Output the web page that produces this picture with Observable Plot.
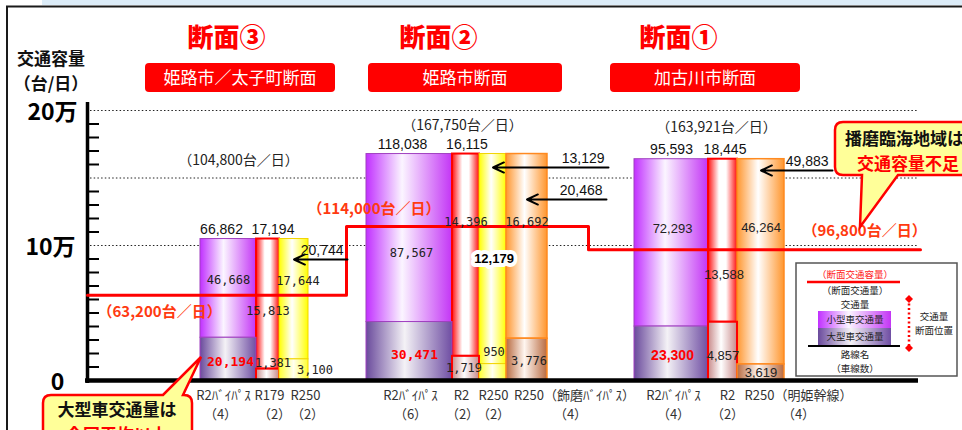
<!DOCTYPE html>
<html><head><meta charset="utf-8">
<script src="https://cdn.jsdelivr.net/npm/d3@7"></script>
<script src="https://cdn.jsdelivr.net/npm/@observablehq/plot@0.6"></script>
<style>
html,body{margin:0;padding:0;background:#fff;overflow:hidden}
#chart{position:relative;width:962px;height:430px;overflow:hidden}
#chart svg{display:block}
</style></head><body><div id="chart"></div>
<script>
// ---------------- DATA ----------------
const groups = ["断面③", "断面②", "断面①"];
const groupNames = ["姫路市／太子町断面", "姫路市断面", "加古川市断面"];
const groupTotals = [104800, 167750, 163921];
const capacity = [63200, 114000, 96800];
const routes = [["R2ﾊﾞｲﾊﾟｽ", "R179", "R250"], ["R2ﾊﾞｲﾊﾟｽ", "R2", "R250", "R250（飾磨ﾊﾞｲﾊﾟｽ）"], ["R2ﾊﾞｲﾊﾟｽ", "R2", "R250（明姫幹線）"]];
const lanes = [[4, 2, 2], [6, 2, 2, 4], [4, 2, 4]];
const volumes = [[66862, 17194, 20744], [118038, 16115, 13129, 20468], [95593, 18445, 49883]];
const smallVeh = [[46668, 15813, 17644], [87567, 14396, 12179, 16692], [72293, 13588, 46264]];
const largeVeh = [[20194, 1381, 3100], [30471, 1719, 950, 3776], [23300, 4857, 3619]];
const yTickValues = [0, 100000, 200000];
const yTickLabels = ["0", "10万", "20万"];
const gridValues = [100000, 150000, 200000];
const minorTicks = [10000, 20000, 30000, 40000, 50000, 60000, 70000, 80000, 90000, 110000, 120000, 130000, 140000, 160000, 170000, 180000, 190000];

// ---------------- LAYOUT (positions / sizes, px) ----------------
const groupLeft = [200, 366, 634];
const colWidth = [[56, 23, 29], [86, 27, 27, 41], [74, 29, 47]];
const colKind = [["bp", "r2", "ye"], ["bp", "r2", "ye", "or"], ["bp", "r2", "or"]];
const topDx = [[-7, 5, 0], [-7, 1, 0, 0], [0, 2, 0]];
const smallDx = [[0, 0, 4], [2, 0, 1, 0], [1, 1, 0]];
const smallDy = [[-8, 7, -18], [15, -33, 0, -24], [-14, 34, -34]];
const largeDx = [[2, 5, 21], [5, -2, 1, 2], [1, 0, 0]];
const largeDy = [[3, -12, 0], [4, 0, -20, 2], [2, 4, 0]];
const nameDx = [[-5, 1.5, 11.5], [1, -4.5, 0.5, 47.5], [2, 4.5, 37.5]];
const laneDx = [[-8, 6.5, 13.5], [1, -3.5, 0.5, 43.5], [2, 4.5, 37.5]];
const arrowLayout = [{sx: 347, py: 259}, {sx: 608, py: 167}, {sx: 606, py: 199}, {sx: 832, py: 170}];
const capX = [87, 346, 588, 920];
const capLabelX = [97, 307, 802];
const capLabelDy = [17, -17, -19];
const totalDx = [-16, 5.5, 7];
const totalPy = [160, 125, 127];
const headX = [226, 438, 678];
const boxX = [[145, 335], [368, 562], [610, 800]];
const yLabelX = [57, 50, 52];

const SANS = "'Liberation Sans', Arial, sans-serif";
const MONO = "'DejaVu Sans Mono', monospace";
const JP = "'Noto Sans CJK JP', 'Noto Sans', sans-serif";
const Y = px => (380 - px) * 200000 / 270;   // pixel row -> y-scale value (annotations)
const PX = px => px * 200000 / 270;          // pixel offset -> y-scale units
const fmt = d3.format(",");

const strokeCol = {bp: "#a040c0", r2: "#ff0000", ye: "#f2d400", or: "#ff8a20"};
const strokeW = {bp: 1, r2: 2, ye: 1, or: 1.5};
const gradStops = {
  bpTop: [[0, "#c130ff"], [0.42, "#fbf5ff"], [1, "#c335f5"]],
  bpLow: [[0, "#6a4a9c"], [0.45, "#f4f2f6"], [1, "#6f4ea3"]],
  r2Top: [[0, "#ff1010"], [0.38, "#ffffff"], [0.62, "#ffffff"], [1, "#ff1010"]],
  r2Low: [[0, "#c88a8a"], [0.45, "#ffffff"], [1, "#c88a8a"]],
  yeTop: [[0, "#ffff00"], [0.45, "#ffffff"], [1, "#ffff00"]],
  yeLow: [[0, "#ffff30"], [0.5, "#fffff0"], [1, "#ffff30"]],
  orTop: [[0, "#ff962e"], [0.45, "#ffffff"], [1, "#ff962e"]],
  orLow: [[0, "#b86a40"], [0.45, "#fff6f0"], [1, "#b86a40"]]
};

// ---------------- build table ----------------
const cols = [];
groups.forEach((g, gi) => {
  let x = groupLeft[gi];
  routes[gi].forEach((r, ci) => {
    const w = colWidth[gi][ci];
    const T = groupTotals[gi], v = volumes[gi][ci];
    cols.push({gi, ci, route: r, lane: `（${lanes[gi][ci]}）`, vol: v, small: smallVeh[gi][ci], large: largeVeh[gi][ci],
      total: T, split: T * largeVeh[gi][ci] / v, x1: x, x2: x + w, cx: x + w / 2, kind: colKind[gi][ci]});
    x += w;
  });
});
const arrowCols = cols.filter(d => d.kind === "ye" || d.kind === "or").map((d, i) => ({...d, sx: arrowLayout[i].sx, yv: Y(arrowLayout[i].py)}));
const topCols = cols.filter(d => d.kind === "bp" || d.kind === "r2");
const capPts = capX.map((x, i) => ({x, v: capacity[Math.min(i, capacity.length - 1)]}));
const capLabels = capacity.map((v, i) => ({v, x: capLabelX[i], text: `（${fmt(v)}台／日）`, dy: capLabelDy[i]}));
const totals = groupTotals.map((t, gi) => {
  const g = cols.filter(d => d.gi === gi);
  return {t, x: (g[0].x1 + g[g.length - 1].x2) / 2 + totalDx[gi], y: Y(totalPy[gi])};
});
const isSpecial = d => d.gi === 1 && d.ci === 2;
const smallY = d => (d.split + d.total) / 2 - PX(smallDy[d.gi][d.ci]);
const largeY = d => d.split / 2 - PX(largeDy[d.gi][d.ci]);

const svg = Plot.plot({
  width: 962, height: 430, margin: 0,
  style: {background: "transparent", overflow: "hidden"},
  x: {domain: [0, 962], range: [0, 962], axis: null},
  y: {domain: [0, 200000], range: [380, 110], axis: null},
  color: {type: "identity"},
  marks: [
    Plot.ruleY(gridValues, {x1: 90, x2: 917, stroke: "#222", strokeWidth: 1, strokeDasharray: "1.5,2.2"}),
    Plot.rect(cols, {x1: "x1", x2: "x2", y1: "split", y2: "total", fill: d => `url(#${d.kind}Top)`, stroke: d => strokeCol[d.kind], strokeWidth: d => strokeW[d.kind]}),
    Plot.rect(cols, {x1: "x1", x2: "x2", y1: 0, y2: "split", fill: d => `url(#${d.kind}Low)`, stroke: d => strokeCol[d.kind], strokeWidth: d => strokeW[d.kind]}),
    // axis
    Plot.ruleX([87], {y1: Y(102), y2: Y(383), stroke: "#000", strokeWidth: 3.5}),
    Plot.ruleY(minorTicks, {x1: 87, x2: 99, stroke: "#000", strokeWidth: 2}),
    Plot.ruleY([0], {x1: 85, x2: 918, stroke: "#000", strokeWidth: 4.5}),
    Plot.text(yTickValues, {x: (d, i) => yLabelX[i], y: d => d, dy: 2, text: (d, i) => yTickLabels[i], fontSize: 23, fontWeight: "bold", fontFamily: JP, fill: "#000"}),
    // capacity step line
    Plot.line(capPts, {x: "x", y: "v", curve: "step-after", stroke: "#ff0000", strokeWidth: 3}),
    // arrows
    Plot.arrow(arrowCols, {x1: "sx", y1: "yv", x2: "cx", y2: "yv", stroke: "#000", strokeWidth: 2, headLength: 9, headAngle: 50}),
    Plot.text(arrowCols, {x: d => d.sx - 4, y: "yv", dy: -9, textAnchor: "end", text: d => fmt(d.vol), fontSize: 14, fontFamily: SANS, fill: "#111"}),
    // top volume labels
    Plot.text(topCols, {x: d => d.cx + topDx[d.gi][d.ci], y: "total", dy: -10, text: d => fmt(d.vol), fontSize: 14, fontFamily: SANS, fill: "#111"}),
    // group totals
    Plot.text(totals, {x: "x", y: "y", text: d => `（${fmt(d.t)}台／日）`, fontSize: 14, fontFamily: JP, fill: "#222"}),
    // small-vehicle labels
    Plot.text(cols.filter(d => d.gi < 2 && !isSpecial(d)), {x: d => d.cx + smallDx[d.gi][d.ci], y: smallY, text: d => fmt(d.small), fontSize: 12, fontFamily: MONO, fill: "#222"}),
    Plot.text(cols.filter(d => d.gi === 2), {x: d => d.cx + smallDx[d.gi][d.ci], y: smallY, text: d => fmt(d.small), fontSize: 13, fontFamily: SANS, fill: "#222"}),
    Plot.text(cols.filter(isSpecial), {x: d => d.cx + smallDx[d.gi][d.ci], y: smallY, text: d => fmt(d.small), fontSize: 13, fontWeight: "bold", fontFamily: SANS, fill: "#fff", stroke: "#fff", strokeWidth: 8, strokeLinejoin: "round"}),
    Plot.text(cols.filter(isSpecial), {x: d => d.cx + smallDx[d.gi][d.ci], y: smallY, text: d => fmt(d.small), fontSize: 13, fontWeight: "bold", fontFamily: SANS, fill: "#000"}),
    // large-vehicle labels
    Plot.text(cols.filter(d => d.gi < 2 && d.kind !== "bp"), {x: d => d.cx + largeDx[d.gi][d.ci], y: largeY, text: d => fmt(d.large), fontSize: 12, fontFamily: MONO, fill: "#222"}),
    Plot.text(cols.filter(d => d.gi === 2 && d.kind !== "bp"), {x: d => d.cx + largeDx[d.gi][d.ci], y: largeY, text: d => fmt(d.large), fontSize: 13, fontFamily: SANS, fill: "#222"}),
    Plot.text(cols.filter(d => d.gi < 2 && d.kind === "bp"), {x: d => d.cx + largeDx[d.gi][d.ci], y: largeY, text: d => fmt(d.large), fontSize: 13, fontWeight: "bold", fontFamily: MONO, fill: "#ff0000"}),
    Plot.text(cols.filter(d => d.gi === 2 && d.kind === "bp"), {x: d => d.cx + largeDx[d.gi][d.ci], y: largeY, text: d => fmt(d.large), fontSize: 14, fontWeight: "bold", fontFamily: SANS, fill: "#ff0000"}),
    // capacity labels
    Plot.text(capLabels, {x: "x", y: d => d.v - PX(d.dy), text: "text", textAnchor: "start", fontSize: 15, fontWeight: "bold", fontFamily: JP, fill: "#ff3a10"}),
    // route names + lanes
    Plot.text(cols, {x: d => d.cx + nameDx[d.gi][d.ci], y: Y(395), text: "route", fontSize: 13, fontFamily: JP, fill: "#333"}),
    Plot.text(cols, {x: d => d.cx + laneDx[d.gi][d.ci], y: Y(414), text: "lane", fontSize: 13, fontFamily: JP, fill: "#333"}),
    // headers
    Plot.text(groups, {x: (d, i) => headX[i], y: Y(38), text: d => d, fontSize: 26, fontWeight: 900, fontFamily: JP, fill: "#ff0000"})
  ]
});
document.getElementById("chart").appendChild(svg);

// ---------------- decorations ----------------
const s = d3.select(svg);
const defs = s.insert("defs", ":first-child");
for (const [id, stops] of Object.entries(gradStops)) {
  const lgr = defs.append("linearGradient").attr("id", id).attr("x1", 0).attr("x2", 1).attr("y1", 0).attr("y2", 0);
  stops.forEach(([o, c]) => lgr.append("stop").attr("offset", o).attr("stop-color", c));
}
// frame (behind)
const back = document.createElementNS("http://www.w3.org/2000/svg", "g");
svg.insertBefore(back, defs.node().nextSibling);
const bg = d3.select(back);
bg.append("rect").attr("x", 42).attr("y", 0).attr("width", 920).attr("height", 5).attr("fill", "#dcecf8");
bg.append("path").attr("d", "M7,430 V6.5 H962").attr("fill", "none").attr("stroke", "#1a1a1a").attr("stroke-width", 2);

const fg = s.append("g").attr("text-anchor", "start");
// multi-line text helper: one <text>, one <tspan> per line
function multi(parent, lines, {x, y, gap, anchor = "middle", size, weight = "normal", fills}) {
  const t = parent.append("text").attr("text-anchor", anchor).attr("font-family", JP).attr("font-size", size).attr("font-weight", weight);
  lines.forEach((ln, i) => t.append("tspan").attr("x", Array.isArray(x) ? x[i] : x).attr("y", y + i * gap).attr("dy", "0.35em")
    .attr("fill", fills[i]).text(ln));
  return t;
}
// axis title
multi(fg, ["交通容量", "（台/日）"], {x: 51, y: 59, gap: 25, size: 17, weight: "bold", fills: ["#111", "#111"]});
// header boxes
groupNames.forEach((n, i) => {
  fg.append("rect").attr("x", boxX[i][0]).attr("y", 63).attr("width", boxX[i][1] - boxX[i][0]).attr("height", 29)
    .attr("rx", 4).attr("fill", "#ff0000");
  fg.append("text").attr("x", (boxX[i][0] + boxX[i][1]) / 2).attr("y", 78).attr("dy", "0.35em").attr("text-anchor", "middle")
    .attr("font-family", JP).attr("font-size", 17).attr("fill", "#fff").text(n);
});
// right callout
fg.append("path").attr("d", "M843,122 H990 V175 H898 L860,227 L862,175 H843 Q835,175 835,167 V130 Q835,122 843,122 Z")
  .attr("fill", "#ffff99").attr("stroke", "#ff0000").attr("stroke-width", 2.5);
multi(fg, ["播磨臨海地域は", "交通容量不足"], {x: [845, 857], y: 139, gap: 25, anchor: "start", size: 17, weight: "bold", fills: ["#111", "#ff0000"]});
// bottom-left callout
fg.append("path").attr("d", "M51,395 H163 L201,357 L183,395 H184 Q192,395 192,403 V470 H43 V403 Q43,395 51,395 Z")
  .attr("fill", "#ffff99").attr("stroke", "#ff0000").attr("stroke-width", 2.5);
multi(fg, ["大型車交通量は", "全国平均以上"], {x: 117, y: 410, gap: 25, size: 17, weight: "bold", fills: ["#111", "#ff0000"]});
// legend
const lg = fg.append("g").attr("font-family", JP).attr("font-size", 9.5).attr("text-anchor", "middle");
lg.append("rect").attr("x", 796).attr("y", 263).attr("width", 161).attr("height", 113).attr("fill", "#fff").attr("stroke", "#555").attr("stroke-width", 1.5);
lg.append("text").attr("x", 855).attr("y", 275).attr("dy", "0.35em").attr("fill", "#ff2020").text("（断面交通容量）");
lg.append("line").attr("x1", 807).attr("x2", 900).attr("y1", 282).attr("y2", 282).attr("stroke", "#ff0000").attr("stroke-width", 2.5);
multi(lg, ["（断面交通量）", "交通量"], {x: 855, y: 291, gap: 14, size: 9.5, fills: ["#222", "#222"]});
lg.append("rect").attr("x", 818).attr("y", 311).attr("width", 73).attr("height", 17).attr("fill", "url(#bpTop)");
lg.append("rect").attr("x", 818).attr("y", 328).attr("width", 73).attr("height", 18).attr("fill", "url(#bpLow)");
multi(lg, ["小型車交通量", "大型車交通量"], {x: 855, y: 320, gap: 17, size: 9.5, fills: ["#222", "#222"]});
lg.append("line").attr("x1", 808).attr("x2", 900).attr("y1", 346).attr("y2", 346).attr("stroke", "#000").attr("stroke-width", 2);
multi(lg, ["路線名", "（車線数）"], {x: 855, y: 355, gap: 14, size: 9.5, fills: ["#222", "#222"]});
lg.append("line").attr("x1", 909).attr("x2", 909).attr("y1", 299).attr("y2", 348).attr("stroke", "#ff0000").attr("stroke-width", 2.5).attr("stroke-dasharray", "2,2.5");
[299, 348].forEach(y => lg.append("path").attr("d", `M909,${y - 4} L913,${y} L909,${y + 4} L905,${y} Z`).attr("fill", "#ff0000"));
multi(lg, ["交通量", "断面位置"], {x: 934, y: 317, gap: 14, size: 9.5, fills: ["#222", "#222"]});
</script></body></html>
